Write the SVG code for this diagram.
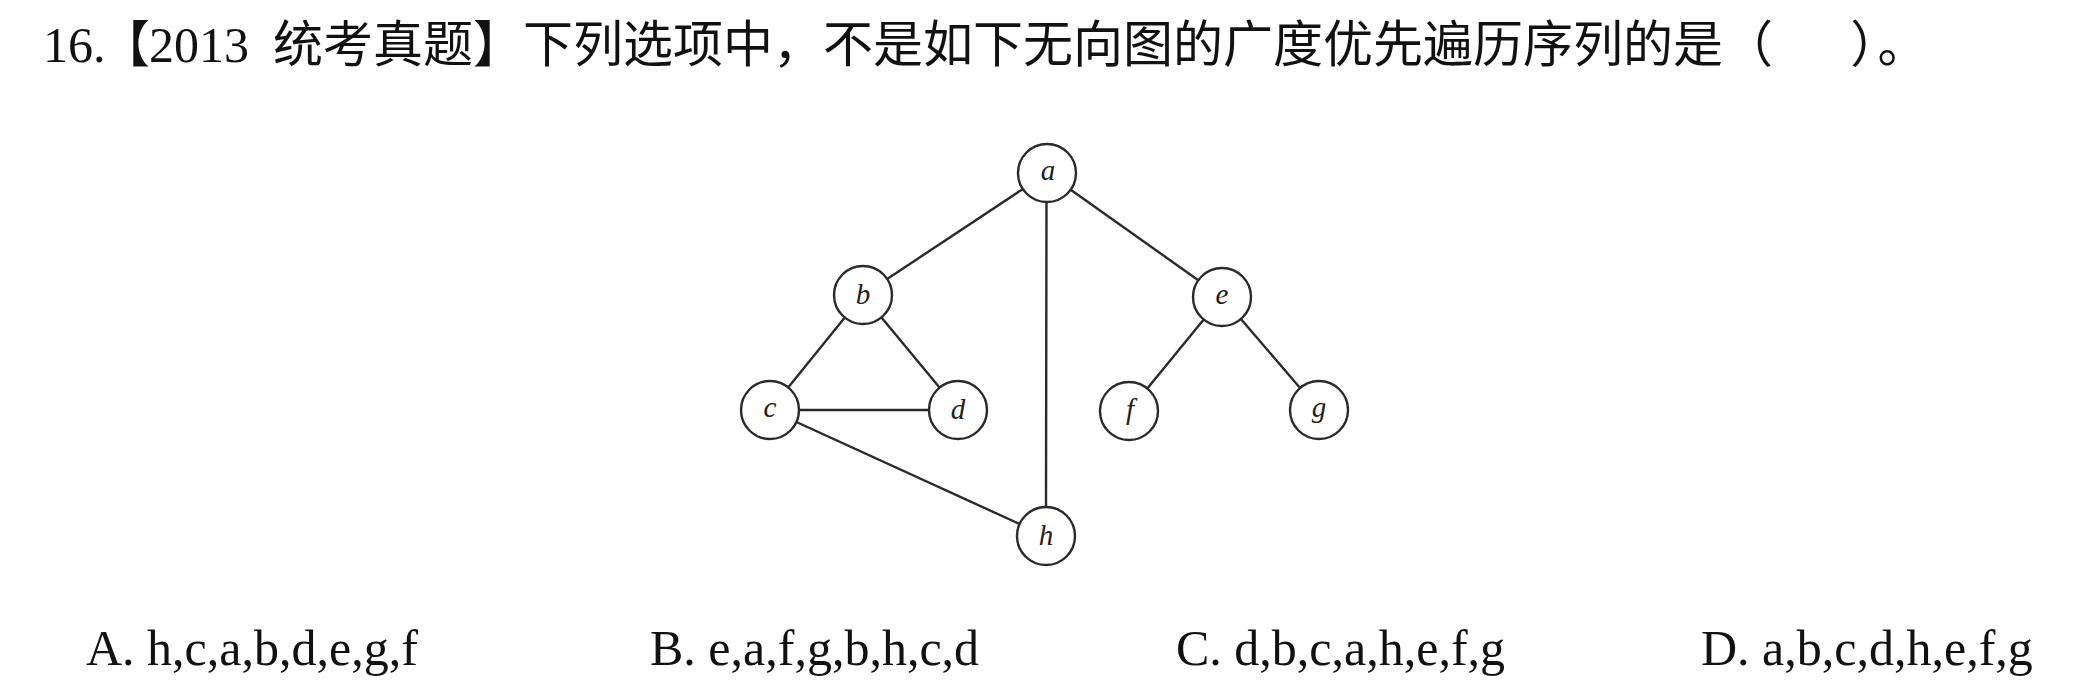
<svg xmlns="http://www.w3.org/2000/svg" width="2081" height="697" viewBox="0 0 2081 697">
<style>
.t{font-family:"Liberation Serif","Noto Sans CJK SC",serif;font-size:50px;fill:#111}
.cjk{font-family:"Noto Sans CJK SC","Noto Sans CJK JP",sans-serif;font-size:50px;fill:#111}
.palt{font-feature-settings:"palt" 1}
.node circle{fill:#fff;stroke:#2a2a2a;stroke-width:2.4}
.node text{font-family:"Liberation Serif",serif;font-style:italic;font-size:29px;fill:#222;text-anchor:middle}
.edges line{stroke:#2a2a2a;stroke-width:2.4;stroke-linecap:round}
</style>
<rect width="2081" height="697" fill="#fff"/>
<g id="title">
<text class="t" x="43" y="62">16.</text>
<text class="cjk" x="100" y="62">【</text>
<text class="t" x="149" y="62">2013</text>
<text class="cjk" x="273" y="62">统考真题】下列选项中，不是如下无向图的广度优先遍历序列的是（</text>
<text class="cjk palt" x="1852" y="62">）。</text>
</g>
<g class="edges" id="connectors">
<line x1="1022.8" y1="189" x2="887.2" y2="279"/>
<line x1="1070.7" y1="189.8" x2="1198.3" y2="280.2"/>
<line x1="1046.5" y1="202" x2="1046" y2="507"/>
<line x1="844.8" y1="317.6" x2="788.2" y2="387.4"/>
<line x1="881.5" y1="317.4" x2="939.5" y2="387.6"/>
<line x1="799" y1="410" x2="929" y2="410"/>
<line x1="796.4" y1="422" x2="1019.6" y2="524"/>
<line x1="1203.7" y1="319.5" x2="1147.3" y2="388.5"/>
<line x1="1240.9" y1="319" x2="1300.1" y2="388"/>
</g>
<g class="node" id="node-a"><circle cx="1047" cy="173" r="29"/><text x="1048" y="180">a</text></g>
<g class="node" id="node-b"><circle cx="863" cy="295" r="29"/><text x="863" y="304">b</text></g>
<g class="node" id="node-e"><circle cx="1222" cy="297" r="29"/><text x="1222" y="304">e</text></g>
<g class="node" id="node-c"><circle cx="770" cy="410" r="29"/><text x="770" y="417">c</text></g>
<g class="node" id="node-d"><circle cx="958" cy="410" r="29"/><text x="958" y="419">d</text></g>
<g class="node" id="node-f"><circle cx="1129" cy="411" r="29"/><text x="1130" y="419">f</text></g>
<g class="node" id="node-g"><circle cx="1319" cy="410" r="29"/><text x="1319" y="417">g</text></g>
<g class="node" id="node-h"><circle cx="1046" cy="536" r="29"/><text x="1046" y="545">h</text></g>
<g id="options">
<text class="t" x="86" y="665">A. h,c,a,b,d,e,g,f</text>
<text class="t" x="650" y="665">B. e,a,f,g,b,h,c,d</text>
<text class="t" x="1176" y="665">C. d,b,c,a,h,e,f,g</text>
<text class="t" x="1701" y="665">D. a,b,c,d,h,e,f,g</text>
</g>
</svg>
